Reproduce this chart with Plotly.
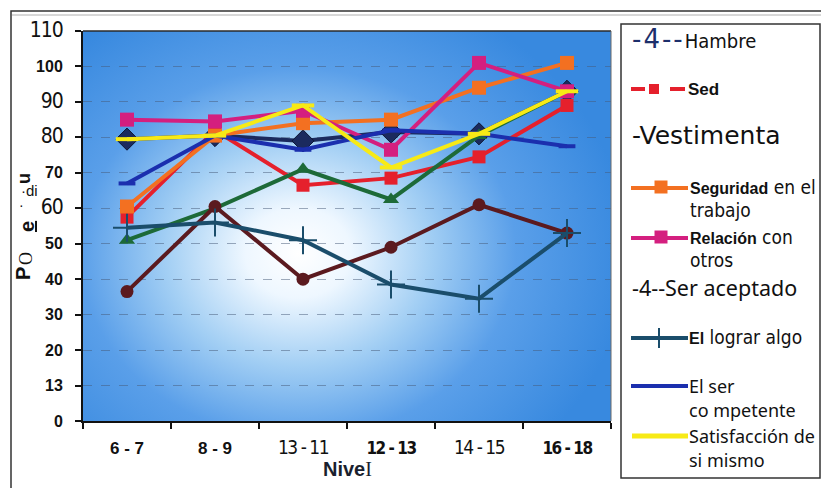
import base64
import plotly.graph_objects as go

# ---- data -------------------------------------------------------------
niveles = ["6 - 7", "8 - 9", "13 - 11", "12 - 13", "14 - 15", "16 - 18"]

hambre = [79.5, 80.5, 79, 81.5, 81, 93]
sed = [57.5, 82, 66.5, 68.5, 74.5, 89]
vestimenta = [51, 60, 71, 62.5, 80.5, 93]
seguridad = [60.5, 80.5, 84, 85, 94, 101]
relacion = [85, 84.5, 87.5, 76.5, 101, 93]
ser_aceptado = [36.5, 60.5, 40, 49, 61, 53]
lograr_algo = [54.5, 56, 51, 38.5, 34.5, 53]
ser_competente = [67, 80.5, 76.5, 82, 81, 77.5]
satisfaccion = [79.5, 80.5, 89, 71.5, 81, 93]

y_tick_values = [0, 10, 20, 30, 40, 50, 60, 70, 80, 90, 100, 110]
y_tick_labels = ["0", "13", "20", "30", "40", "50", "60", "70", "80", "90", "100", "110"]

# ---- styling ----------------------------------------------------------
W, H = 821, 488
L, R, T, B = 83, 611, 31, 421          # plot area in page pixels
NARROW = "Liberation Sans Narrow, DejaVu Sans Condensed, Arial Narrow, sans-serif"
ARIAL = "Liberation Sans, Arial, sans-serif"
DEJAVU = "DejaVu Sans, Verdana, sans-serif"
NOTO = "Noto Sans, Open Sans, sans-serif"


def px(x):
    return (x - L) / (R - L)


def py(y):
    return (B - y) / (B - T)


def narrow(txt, size, spacing=0):
    return (f"<span style='font-family:{NARROW};font-weight:normal;font-size:{size}px;"
            f"letter-spacing:{spacing}px'>{txt}</span>")


y_narrow = {"60", "80", "90", "110"}
y_ticktext = [narrow(t, 21, -1) if t in y_narrow else f"<b>{t}</b>" for t in y_tick_labels]

x_narrow = {"13 - 11", "14 - 15"}
x_condensed = {"12 - 13", "16 - 18"}
x_ticktext = []
for t in niveles:
    if t in x_narrow:
        x_ticktext.append(narrow(t, 19, -1.5))
    elif t in x_condensed:
        x_ticktext.append(f"<span style='font-family:{NARROW};font-weight:bold;font-size:17px;letter-spacing:-1.5px'>{t}</span>")
    else:
        x_ticktext.append(f"<b>{t}</b>")

series = [
    ("Hambre", hambre, "#1b2a5e", dict(symbol="diamond", size=17, color="#1b2a5e",
                                       line=dict(color="#0d1634", width=1))),
    ("Sed", sed, "#e5202c", dict(symbol="square", size=13, color="#e5202c")),
    ("Vestimenta", vestimenta, "#1d6a38", dict(symbol="triangle-up", size=14, color="#1d6a38")),
    ("Seguridad en el trabajo", seguridad, "#f37021", dict(symbol="square", size=14, color="#f37021")),
    ("Relación con otros", relacion, "#d41f7f", dict(symbol="square", size=14, color="#d41f7f")),
    ("Ser aceptado", ser_aceptado, "#5b1a1f", dict(symbol="circle", size=13, color="#5b1a1f")),
    ("El lograr algo", lograr_algo, "#1a4d6b", dict(symbol="cross-thin-open", size=20,
                                                    line=dict(color="#1a4d6b", width=2))),
    ("El ser competente", ser_competente, "#1b2fae", dict(symbol="line-ew-open", size=12,
                                                          line=dict(color="#1b2fae", width=4))),
    ("Satisfacción de si mismo", satisfaccion, "#f7ea16", dict(symbol="line-ew-open", size=16,
                                                               line=dict(color="#f7ea16", width=4))),
]

fig = go.Figure()
for name, vals, color, marker in series:
    fig.add_trace(go.Scatter(
        x=niveles, y=vals, name=name, mode="lines+markers",
        line=dict(color=color, width=4), marker=marker, showlegend=False,
        cliponaxis=False,
    ))

# plot-area background: blue with a soft white glow
svg = f"""<svg xmlns='http://www.w3.org/2000/svg' width='{R-L}' height='{B-T}' viewBox='0 0 {R-L} {B-T}'>
<defs><radialGradient id='g' gradientUnits='userSpaceOnUse' cx='215' cy='222' r='330' fx='215' fy='222'
 gradientTransform='translate(215 222) scale(1 0.85) translate(-215 -222)'>
<stop offset='0' stop-color='#ffffff'/>
<stop offset='0.16' stop-color='#eef7ff'/>
<stop offset='0.40' stop-color='#a3cff4'/>
<stop offset='0.66' stop-color='#5a9fe9'/>
<stop offset='1' stop-color='#3889df'/>
</radialGradient></defs>
<rect width='100%' height='100%' fill='url(#g)'/></svg>"""
bg_src = "data:image/svg+xml;base64," + base64.b64encode(svg.encode()).decode()

shapes = []
annotations = []

# outer frame of the chart object
shapes.append(dict(type="rect", xref="paper", yref="paper", x0=px(11), x1=px(830), y0=py(500), y1=py(11),
                   line=dict(color="#333333", width=1.5), layer="below"))
shapes.append(dict(type="line", xref="paper", yref="paper", x0=px(12), x1=px(830), y0=py(15), y1=py(15),
                   line=dict(color="#b0b0b0", width=1)))
# top / right edges of the plot area
shapes.append(dict(type="line", xref="paper", yref="paper", x0=0, x1=1, y0=1, y1=1,
                   line=dict(color="#2a2a2a", width=1.5)))
shapes.append(dict(type="line", xref="paper", yref="paper", x0=1, x1=1, y0=0, y1=1,
                   line=dict(color="#6a6a6a", width=1)))
# legend box
shapes.append(dict(type="rect", xref="paper", yref="paper", x0=px(621), x1=px(820), y0=py(478), y1=py(24),
                   line=dict(color="#333333", width=1.5)))


def hline(x0, x1, y, color, width=4):
    shapes.append(dict(type="line", xref="paper", yref="paper", x0=px(x0), x1=px(x1), y0=py(y), y1=py(y),
                       line=dict(color=color, width=width)))


def square(cx, cy, s, color):
    shapes.append(dict(type="rect", xref="paper", yref="paper", x0=px(cx - s / 2), x1=px(cx + s / 2),
                       y0=py(cy + s / 2), y1=py(cy - s / 2), fillcolor=color, line=dict(width=0)))


def text(x, y, s, size=18, family=NARROW, color="#111111"):
    annotations.append(dict(xref="paper", yref="paper", x=px(x), y=py(y), text=s, showarrow=False,
                            xanchor="left", yanchor="middle", font=dict(size=size, family=family, color=color)))


# legend samples and labels
text(630, 39, "<span style='font-family:DejaVu Sans;font-size:26px;color:#1d2f6b;letter-spacing:2px'>-4--</span>Hambre", 20)
hline(631, 645, 89, "#e5202c"); hline(670, 685, 89, "#e5202c"); square(654, 89, 10, "#e5202c")
text(686, 89, "<b>Sed</b>", 17, ARIAL)
text(630, 135, "-Vestimenta", 25, DEJAVU)
hline(631, 688, 188, "#f37021"); square(661, 187, 13, "#f37021")
text(688, 187, "<span style='font-family:Liberation Sans;font-weight:bold;font-size:16px'>Seguridad</span> en el", 19)
text(688, 210, "trabajo", 19)
hline(631, 688, 238, "#d41f7f"); square(661, 237, 13, "#d41f7f")
text(688, 237, "<span style='font-family:Liberation Sans;font-weight:bold;font-size:16px'>Relación</span> con", 19)
text(688, 260, "otros", 19)
text(630, 287, "-4--Ser aceptado", 21.5, NOTO)
hline(631, 688, 338, "#1a4d6b")
shapes.append(dict(type="line", xref="paper", yref="paper", x0=px(659), x1=px(659), y0=py(328), y1=py(348),
                   line=dict(color="#1a4d6b", width=2)))
text(687, 337, "<span style='font-family:Liberation Sans;font-weight:bold;font-size:16px'>El</span> lograr algo", 19)
hline(631, 688, 386, "#1b2fae")
text(687, 386, "El ser", 18, NOTO)
text(687, 410, "co mpetente", 18, NOTO)
hline(632, 688, 436, "#f7ea16", 5)
text(687, 436, "Satisfacción de", 18, NOTO)
text(687, 460, "si mismo", 18, NOTO)

# axis titles
annotations.append(dict(xref="paper", yref="paper", x=px(347), y=py(469), showarrow=False,
                        text="<b>Nive</b><span style='font-family:Liberation Serif;font-weight:normal'>I</span>",
                        font=dict(size=20, family=ARIAL, color="#1a1f2e"), xanchor="center", yanchor="middle"))
for (x, y, s, ang, fam, sz) in [
    (23, 274, "<b>P</b>", -90, ARIAL, 20),
    (26, 259, "O", -90, "Liberation Serif", 18),
    (27, 227, "<b><u>e</u></b>", -90, ARIAL, 20),
    (21, 205, "·", 0, ARIAL, 14),
    (29, 190, "·di", 0, ARIAL, 15),
    (24, 179, "<b>u</b>", -90, ARIAL, 18),
]:
    annotations.append(dict(xref="paper", yref="paper", x=px(x), y=py(y), text=s, showarrow=False,
                            textangle=ang, font=dict(size=sz, family=fam, color="#111111"),
                            xanchor="center", yanchor="middle"))

fig.update_layout(
    width=W, height=H,
    margin=dict(l=L, r=W - R, t=T, b=H - B),
    paper_bgcolor="white", plot_bgcolor="rgba(0,0,0,0)",
    images=[dict(source=bg_src, xref="paper", yref="paper", x=0, y=1, sizex=1, sizey=1,
                 sizing="stretch", layer="below", xanchor="left", yanchor="top")],
    shapes=shapes, annotations=annotations,
    xaxis=dict(
        type="category", range=[-0.5, 5.5], tickmode="array", tickvals=niveles, ticktext=x_ticktext,
        tickson="boundaries", ticks="outside", ticklen=6, tickcolor="#111", tickwidth=1.5,
        showline=True, linecolor="#111111", linewidth=2, showgrid=False, zeroline=False,
        tickfont=dict(size=17, family=ARIAL, color="#111111"), ticklabelstandoff=11,
    ),
    yaxis=dict(
        range=[0, 110], tickmode="array", tickvals=y_tick_values, ticktext=y_ticktext,
        ticks="outside", ticklen=6, tickcolor="#111", tickwidth=1.5,
        showline=True, linecolor="#111111", linewidth=2, zeroline=False,
        showgrid=True, gridcolor="rgba(70,90,120,0.5)", griddash="dash", gridwidth=1,
        tickfont=dict(size=16, family=ARIAL, color="#111111"), ticklabelstandoff=9,
    ),
)

fig.write_html("out.html")
